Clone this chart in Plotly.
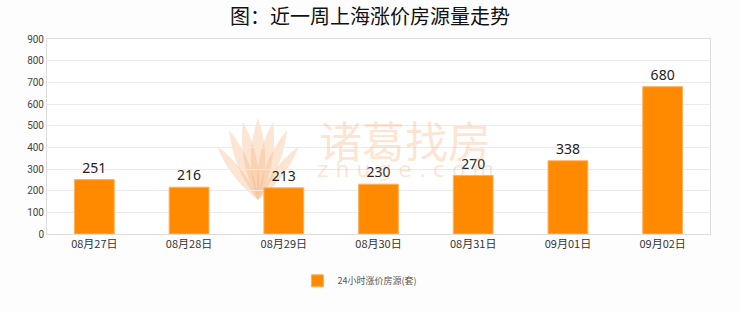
import plotly.graph_objects as go

categories = ["08月27日", "08月28日", "08月29日", "08月30日", "08月31日", "09月01日", "09月02日"]
values = [251, 216, 213, 230, 270, 338, 680]
series_name = "24小时涨价房源(套)"
title_text = "图：近一周上海涨价房源量走势"
y_ticks = [0, 100, 200, 300, 400, 500, 600, 700, 800, 900]

fig = go.Figure()
fig.add_trace(go.Bar(
    x=categories, y=values, name=series_name,
    marker=dict(color="#FF8A00", line=dict(color="#FFB060", width=1)),
    width=0.42,
    text=[str(v) for v in values], textposition="outside",
    textfont=dict(size=14, color="#222222", family="Noto Sans, DejaVu Sans"),
    cliponaxis=False,
    showlegend=True,
))

# --- watermark (decorative) ---
L, R, T, B = 47, 710, 39, 234
def px(x, y):
    return (x - L) / (R - L), (B - y) / (B - T)

wm_fill = "rgba(245,170,105,0.30)"
base = (258, 200)
tips = [(258, 118, 9), (243, 122, 8), (273, 122, 8), (229, 130, 7), (287, 130, 7), (217, 146, 6), (299, 146, 6)]
for tx, ty, w in tips:
    bx, by = base
    mx, my = (bx + tx) / 2, (by + ty) / 2
    dx, dy = tx - bx, ty - by
    n = (dx * dx + dy * dy) ** 0.5
    ox, oy = -dy / n * w * 1.6, dx / n * w * 1.6
    p0 = px(bx, by); p1 = px(mx + ox, my + oy); p2 = px(tx, ty); p3 = px(mx - ox, my - oy)
    path = f"M {p0[0]},{p0[1]} Q {p1[0]},{p1[1]} {p2[0]},{p2[1]} Q {p3[0]},{p3[1]} {p0[0]},{p0[1]} Z"
    fig.add_shape(type="path", path=path, xref="paper", yref="paper",
                  fillcolor=wm_fill, line=dict(width=0), layer="below")

cx, cy = px(405, 139)
fig.add_annotation(x=cx, y=cy, xref="paper", yref="paper", text="诸葛找房", showarrow=False,
                   font=dict(size=43, color="rgba(245,165,100,0.30)", family="Noto Sans CJK SC"))
cx2, cy2 = px(405, 184)
fig.add_annotation(x=cx2, y=cy2, xref="paper", yref="paper", text="z h u g e . c o m", showarrow=False,
                   font=dict(size=22, color="rgba(245,165,100,0.28)", family="DejaVu Sans"))

fig.update_layout(
    width=740, height=312,
    margin=dict(l=47, r=30, t=39, b=78),
    paper_bgcolor="#FDFDFD",
    plot_bgcolor="#FFFFFF",
    title=dict(text=title_text, x=0.5, xanchor="center", y=1 - 17 / 312, yanchor="middle",
               font=dict(size=20, color="#111111", family="Noto Sans CJK SC")),
    xaxis=dict(
        showline=True, linecolor="#DDDDDD", mirror=True,
        tickfont=dict(size=11, color="#333333", family="Noto Sans CJK SC"),
        ticks="", showgrid=False,
    ),
    yaxis=dict(
        range=[0, 900], tickvals=y_ticks,
        showline=True, linecolor="#DDDDDD", mirror=True,
        gridcolor="#EBEBEB", gridwidth=1,
        tickfont=dict(size=10, color="#444444", family="Roboto"),
        ticks="", zeroline=False,
    ),
    legend=dict(
        orientation="h", x=0.472, xanchor="center", y=-0.24, yanchor="middle",
        font=dict(size=9, color="#555555", family="Noto Sans CJK SC"),
        itemwidth=30,
    ),
    bargap=0.58,
)

fig.write_html("out.html")
